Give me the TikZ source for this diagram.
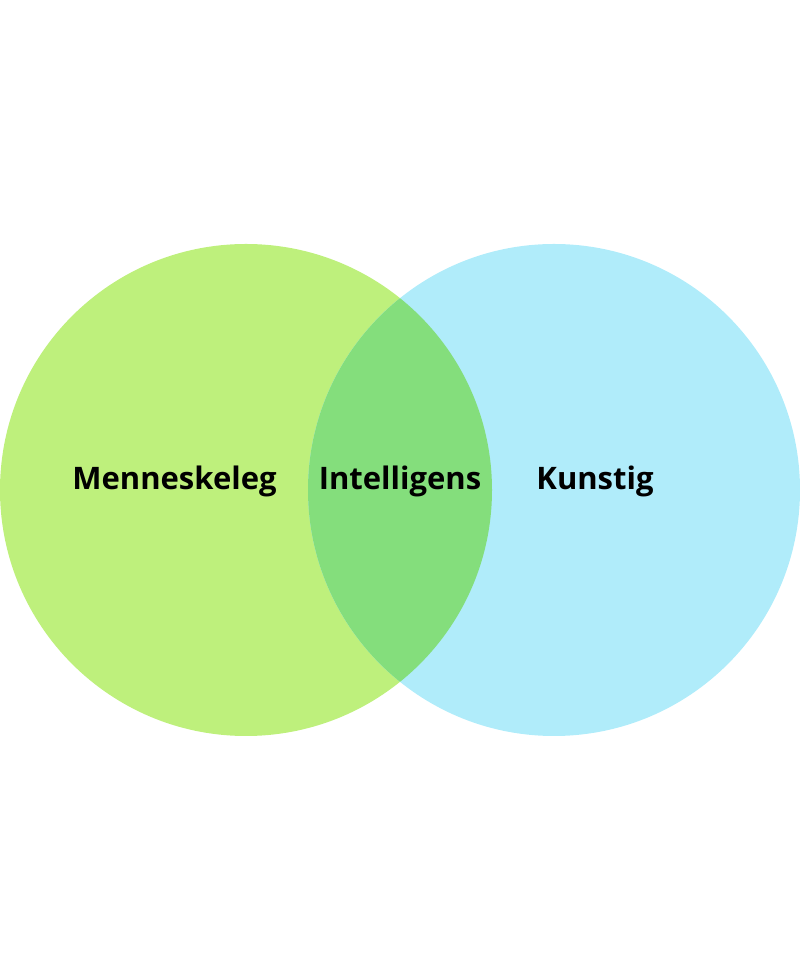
\documentclass[tikz,border=0pt]{standalone}
\usepackage{fontspec}
\setmainfont{Open Sans}
\definecolor{lgreen}{HTML}{BEF07C}
\definecolor{lcyan}{HTML}{B0ECFA}
\definecolor{mgreen}{HTML}{84DE7C}
\begin{document}
\begin{tikzpicture}[x=1pt,y=1pt,
  lbl/.style={font=\fontsize{31}{35}\selectfont\bfseries, text=black, inner sep=0pt, anchor=base}]
\useasboundingbox (0,0) rectangle (800,980);
\fill[lgreen] (246,490) circle (246);
\fill[lcyan] (554,490) circle (246);
\begin{scope}
\clip (246,490) circle (246);
\fill[mgreen] (554,490) circle (246);
\end{scope}
\node[lbl] (m) at (174.5,490) {Menneskeleg};
\node[lbl] (i) at (400,490) {Intelligens};
\node[lbl] (k) at (595,490) {Kunstig};
\end{tikzpicture}
\end{document}
